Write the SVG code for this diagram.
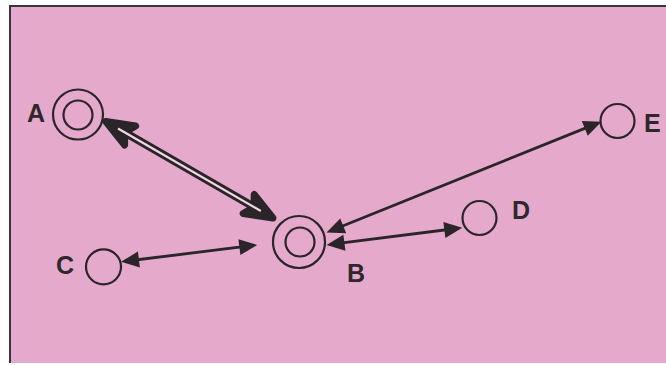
<svg xmlns="http://www.w3.org/2000/svg" width="666" height="365" viewBox="0 0 666 365">
<style>
  .ring { fill: none; stroke: #2b2529; stroke-width: 2.2; }
  .lbl { font-family: "Liberation Sans", Arial, sans-serif; font-weight: bold; font-size: 25px; fill: #2e282c; }
  .thin { fill: none; stroke: #2b2529; stroke-width: 2.8; }
  .dbl { fill: none; stroke: #2b2529; stroke-width: 8; }
  .gap { fill: none; stroke: #f1d6e3; stroke-width: 2.2; }
</style>
<defs>
  <marker id="head" markerUnits="userSpaceOnUse" orient="auto-start-reverse" overflow="visible" markerWidth="30" markerHeight="30" refX="0" refY="0">
    <path d="M6,0 L-12,-8 L-12,8 Z" fill="#2b2529"/>
  </marker>
  <marker id="bighead" markerUnits="userSpaceOnUse" orient="auto-start-reverse" overflow="visible" markerWidth="50" markerHeight="40" refX="0" refY="0">
    <path d="M5,0 L-23,-11 L-19,-4 L-19,4 L-23,11 Z" fill="#2b2529" stroke="#2b2529" stroke-width="7" stroke-linejoin="round"/>
  </marker>
</defs>
<rect x="0" y="0" width="666" height="365" fill="#ffffff"/>
<rect x="10" y="6" width="656" height="357" fill="#e5aacb"/>
<path d="M10,363 L10,6 L666,6" fill="none" stroke="#38353a" stroke-width="2"/>

<g id="connectors">
  <line class="dbl" x1="110.2" y1="124" x2="268.6" y2="215.5" marker-start="url(#bighead)" marker-end="url(#bighead)"/>
  <line class="gap" x1="118" y1="128.5" x2="260.8" y2="211"/>
  <line class="thin" x1="332.1" y1="230.3" x2="595.9" y2="123.9" marker-start="url(#head)" marker-end="url(#head)"/>
  <line class="thin" x1="332.5" y1="244.2" x2="456.3" y2="228.5" marker-start="url(#head)" marker-end="url(#head)"/>
  <line class="thin" x1="127" y1="261" x2="251.3" y2="245.7" marker-start="url(#head)" marker-end="url(#head)"/>
</g>

<g id="node-A">
  <circle class="ring" cx="78" cy="114.5" r="25"/>
  <circle class="ring" cx="78" cy="115" r="14.5"/>
  <text class="lbl" x="27" y="121.7">A</text>
</g>
<g id="node-B">
  <circle class="ring" cx="299" cy="242" r="26"/>
  <circle class="ring" cx="300" cy="242" r="14.5"/>
  <text class="lbl" x="347" y="281.7">B</text>
</g>
<g id="node-C">
  <circle class="ring" cx="103.5" cy="266.8" r="17.5"/>
  <text class="lbl" x="56" y="273.5">C</text>
</g>
<g id="node-D">
  <circle class="ring" cx="479.5" cy="218" r="17"/>
  <text class="lbl" x="512" y="219.3">D</text>
</g>
<g id="node-E">
  <circle class="ring" cx="617.5" cy="121" r="17"/>
  <text class="lbl" x="644" y="132.3">E</text>
</g>
</svg>
